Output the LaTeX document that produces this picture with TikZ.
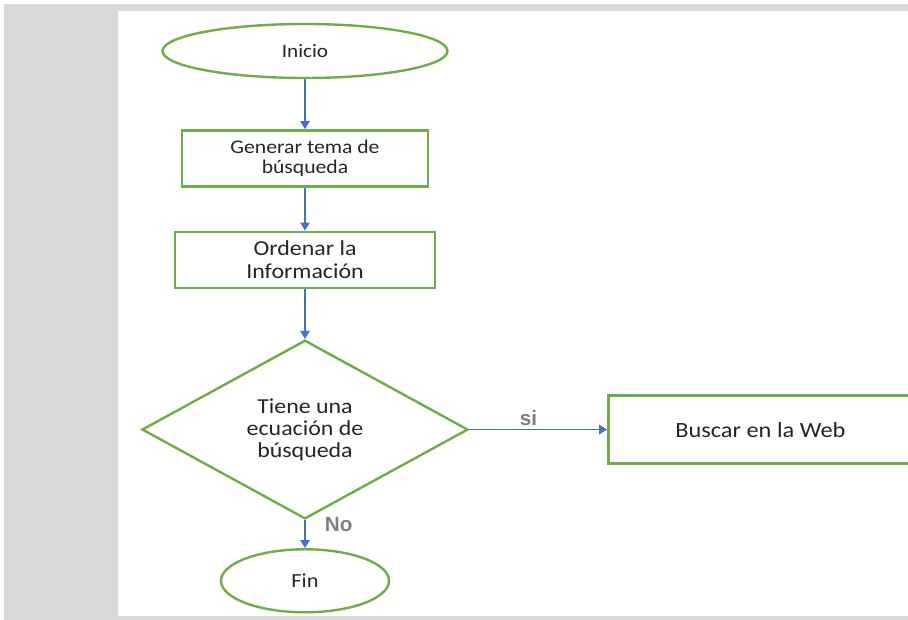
\documentclass[tikz,border=0pt]{standalone}
\usepackage{fontspec}
\setmainfont{Carlito}[FakeStretch=1.12]
\newfontfamily\lblfont{Liberation Sans}
\usepackage{tikz}
\usetikzlibrary{arrows.meta,positioning,shapes.geometric}

\definecolor{boxgreen}{HTML}{70AD47}
\definecolor{arrowblue}{HTML}{4472C4}
\definecolor{pagegray}{HTML}{D9D9D9}
\definecolor{txtgray}{HTML}{262626}
\definecolor{lblgray}{HTML}{808080}

\begin{document}
\begin{tikzpicture}[
    x=0.75pt, y=-0.75pt,
    term/.style={ellipse, draw=boxgreen, line width=1.8pt, fill=white, text=txtgray, inner sep=0pt, align=center},
    proc/.style={rectangle, draw=boxgreen, line width=1.8pt, fill=white, text=txtgray, align=center, minimum height=42pt},
    dec/.style={diamond, draw=boxgreen, line width=1.8pt, fill=white, text=txtgray, align=center, inner sep=0pt, minimum width=244.5pt, minimum height=132.75pt},
    arr/.style={-{Triangle[length=6pt,width=7pt]}, draw=arrowblue, line width=1.1pt},
    lbl/.style={font=\lblfont\bfseries\fontsize{15.5}{17}\selectfont, text=lblgray},
    small/.style={font=\fontsize{14.5}{15}\selectfont},
    big/.style={font=\fontsize{16}{17.25}\selectfont}
]
\useasboundingbox (0,0) rectangle (908,620);
% page background
\fill[white] (0,0) rectangle (908,620);
\fill[pagegray] (4,4) rectangle (908,620);
\fill[white] (118,11) rectangle (908,616);

\node[term, minimum width=213.75pt, minimum height=40.5pt, font=\fontsize{14.2}{16}\selectfont] (inicio) at (305,51) {Inicio};
\node[proc, small, below=37.5pt of inicio, minimum width=184.5pt] (tema) {Generar tema de\\búsqueda};
\node[proc, big, below=32.25pt of tema, minimum width=195pt] (orden) {Ordenar la\\Información};
\node[dec, font=\fontsize{16}{16.5}\selectfont, below=37.5pt of orden] (ecuacion) {Tiene una\\ecuación de\\búsqueda};
\node[proc, font=\fontsize{16.3}{17}\selectfont, right=103.5pt of ecuacion, minimum width=228pt, minimum height=51pt] (web) {Buscar en la Web};
\node[term, font=\fontsize{15}{16}\selectfont, below=21pt of ecuacion, minimum width=126pt, minimum height=47.25pt] (fin) {Fin};

\draw[arr] (inicio) -- (tema);
\draw[arr] (tema) -- (orden);
\draw[arr] (orden) -- (ecuacion);
\draw[arr] (ecuacion) -- node[lbl, above, pos=0.43, inner sep=2pt] {si} (web);
\draw[arr] (ecuacion) -- node[lbl, right, pos=0.15, xshift=11pt] {No} (fin);
\end{tikzpicture}
\end{document}
